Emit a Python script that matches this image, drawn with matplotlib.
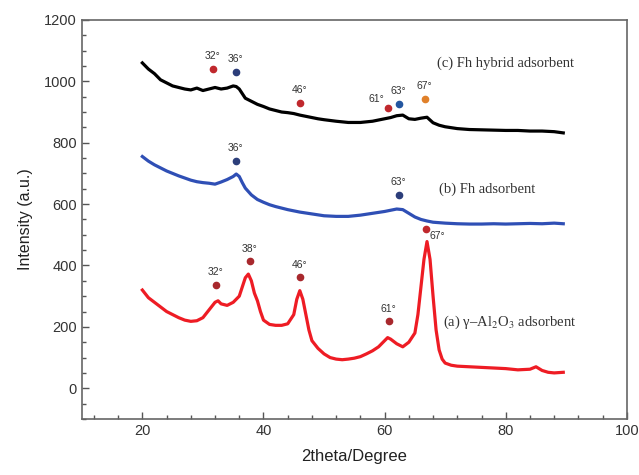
import matplotlib.pyplot as plt
import matplotlib.ticker as ticker

plt.rcParams['mathtext.fontset'] = 'stix'

# (c) Fh hybrid adsorbent
x_c = [20, 21, 22, 23, 24, 25, 26, 27, 28, 29, 30, 31, 32, 33, 34, 35, 35.5, 36,
       36.5, 37, 38, 39, 40, 41, 42, 43, 44, 45, 46, 47, 48, 49, 50, 52, 54, 56,
       58, 60, 61, 62, 63, 64, 65, 66, 67, 68, 69, 70, 72, 74, 76, 78, 80, 82,
       84, 86, 88, 89.5]
y_c = [1060, 1040, 1025, 1005, 995, 985, 980, 975, 972, 978, 970, 975, 980, 975,
       978, 985, 983, 975, 960, 945, 935, 925, 918, 910, 905, 900, 898, 895, 890,
       886, 882, 878, 875, 870, 866, 866, 870, 878, 882, 888, 890, 878, 876, 880,
       883, 865, 857, 852, 846, 843, 842, 841, 840, 840, 838, 838, 836, 832]

# (b) Fh adsorbent
x_b = [20, 21, 22, 23, 24, 25, 26, 27, 28, 29, 30, 31, 32, 33, 34, 35, 35.5, 36,
       36.5, 37, 38, 39, 40, 41, 42, 43, 44, 45, 46, 48, 50, 52, 54, 56, 58, 60,
       61, 62, 63, 64, 65, 66, 67, 68, 70, 72, 74, 76, 78, 80, 82, 84, 86, 88,
       89.5]
y_b = [755, 740, 728, 718, 708, 700, 692, 685, 678, 673, 670, 668, 665, 672, 680,
       690, 698, 690, 670, 652, 630, 615, 606, 598, 592, 587, 582, 578, 574, 568,
       562, 560, 560, 564, 570, 576, 580, 584, 582, 570, 558, 550, 545, 541, 538,
       536, 535, 535, 536, 535, 536, 537, 536, 538, 536]

# (a) gamma-Al2O3 adsorbent
x_a = [20, 21, 22, 23, 24, 25, 26, 27, 28, 29, 30, 31, 32, 32.5, 33, 34, 35, 36,
       36.5, 37, 37.5, 38, 38.5, 39, 39.5, 40, 41, 42, 43, 44, 45, 45.5, 46, 46.5,
       47, 47.5, 48, 49, 50, 51, 52, 53, 54, 55, 56, 57, 58, 59, 60, 60.5, 61, 62,
       63, 64, 65, 65.5, 66, 66.5, 67, 67.5, 68, 68.5, 69, 69.5, 70, 71, 72, 74,
       76, 78, 80, 82, 84, 85, 86, 87, 88, 89.5]
y_a = [320, 295, 280, 265, 250, 240, 230, 222, 218, 220, 230, 255, 280, 285, 275,
       270, 280, 300, 330, 360, 372, 350, 310, 285, 250, 222, 208, 205, 205, 210,
       240, 290, 318, 290, 240, 190, 155, 130, 112, 100, 95, 93, 95, 98, 103, 112,
       122, 135, 155, 165, 160, 145, 135, 150, 180, 240, 330, 420, 478, 420, 300,
       190, 125, 95, 82, 75, 72, 70, 68, 66, 64, 60, 62, 70, 58, 52, 50, 52]

# peak markers: (x, y, label, colour)
peaks_c = [(31.6, 1041, '32°', '#c0282d'), (35.4, 1031, '36°', '#2c3e7a'),
           (46.0, 930, '46°', '#c0282d'), (60.5, 914, '61°', '#c0282d'),
           (62.3, 927, '63°', '#2456a0'), (66.6, 943, '67°', '#e0802a')]
peaks_b = [(35.4, 741, '36°', '#2c3e7a'), (62.3, 631, '63°', '#2c3e7a')]
peaks_a = [(32.1, 338, '32°', '#a8282d'), (37.7, 413, '38°', '#a8282d'),
           (46.0, 361, '46°', '#a8282d'), (60.7, 218, '61°', '#a8282d'),
           (66.8, 520, '67°', '#c0282d')]

fig = plt.figure(figsize=(6.39, 4.75), dpi=100)
ax = fig.add_axes([0.128, 0.118, 0.853, 0.840])

ax.plot(x_c, y_c, color='black', lw=2.3)
ax.plot(x_b, y_b, color='#2f4fb5', lw=2.3)
ax.plot(x_a, y_a, color='#ee1c24', lw=2.3)

for peaks in (peaks_c, peaks_b, peaks_a):
    for px, py, lab, col in peaks:
        ax.plot(px, py, 'o', ms=4.5, color=col, mec=col)
        if lab == '67°' and peaks is peaks_a:
            ax.text(px + 0.6, py - 8, lab, fontsize=7.5, color='#333333',
                    family='Liberation Sans', ha='left', va='top')
        elif lab == '61°' and peaks is peaks_c:
            ax.text(px - 0.6, py + 12, lab, fontsize=7.5, color='#333333',
                    family='Liberation Sans', ha='right', va='bottom')
        else:
            ax.text(px, py + 25, lab, fontsize=7.5, color='#333333',
                    family='Liberation Sans', ha='center', va='bottom')

serif = 'Liberation Serif'
ax.text(68.6, 1060, '(c) Fh hybrid adsorbent', fontsize=10.5, family=serif,
        color='#333333', va='center')
ax.text(69.0, 647, '(b) Fh adsorbent', fontsize=10.5, family=serif,
        color='#333333', va='center')
ax.text(69.6, 215, '(a) γ–Al$_2$O$_3$ adsorbent', fontsize=10.5,
        family=serif, color='#333333', va='center')

ax.set_xlim(10, 100)
ax.set_ylim(-100, 1200)
ax.xaxis.set_major_locator(ticker.MultipleLocator(20))
ax.xaxis.set_minor_locator(ticker.MultipleLocator(4))
ax.yaxis.set_major_locator(ticker.MultipleLocator(200))
ax.yaxis.set_minor_locator(ticker.MultipleLocator(50))
ax.tick_params(which='both', direction='in', colors='#555555',
               labelcolor='#333333', labelsize=10.5, width=1)
ax.tick_params(which='major', length=5)
ax.tick_params(which='minor', length=3)
for lab in ax.get_xticklabels() + ax.get_yticklabels():
    lab.set_family('Liberation Sans')
for sp in ax.spines.values():
    sp.set_color('#666666')
    sp.set_linewidth(1.2)

ax.set_xlabel('2theta/Degree', fontsize=12, family='Liberation Sans',
              color='#222222', labelpad=8)
ax.set_ylabel('Intensity (a.u.)', fontsize=11.5, family='Liberation Sans',
              color='#222222', labelpad=8)

fig.savefig('out.png', dpi=100)
